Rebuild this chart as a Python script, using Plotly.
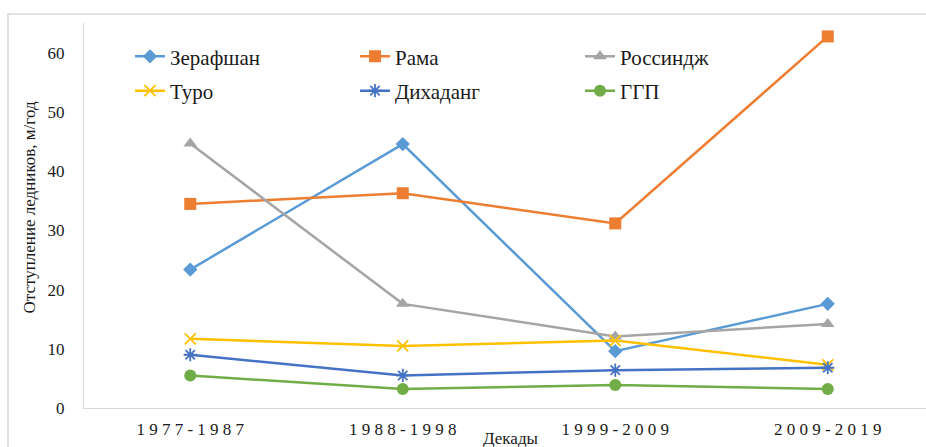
import plotly.graph_objects as go

# Glacier retreat rates by decade, m/yr
decades = ["1977-1987", "1988-1998", "1999-2009", "2009-2019"]
zeravshan = [23.4, 44.6, 9.6, 17.6]
rama = [34.5, 36.3, 31.2, 62.8]
rossindzh = [44.7, 17.6, 12.1, 14.2]
turo = [11.7, 10.5, 11.4, 7.3]
dikhadang = [9.0, 5.5, 6.4, 6.8]
ggp = [5.5, 3.2, 3.9, 3.2]

series_names = ["Зерафшан", "Рама", "Россиндж", "Туро", "Дихаданг", "ГГП"]
y_ticks = [0, 10, 20, 30, 40, 50, 60]

W, H = 926, 447
L, R, T, B = 84, 0, 23, 39
pw, ph = W - L - R, H - T - B

def px_x(x):
    return (x - L) / pw

def px_y(y):
    return (H - B - y) / ph

FONT = "Liberation Serif, Times New Roman, Times, DejaVu Serif, serif"
TXT = "#1a1a1a"

styles = [
    dict(color="#5B9BD5", symbol="diamond", size=11),
    dict(color="#ED7D31", symbol="square", size=12),
    dict(color="#A5A5A5", symbol="triangle-up", size=12),
    dict(color="#FFC000", symbol="x-thin-open", size=11),
    dict(color="#4472C4", symbol="asterisk-open", size=11),
    dict(color="#70AD47", symbol="circle", size=12),
]
values = [zeravshan, rama, rossindzh, turo, dikhadang, ggp]

x_idx = list(range(len(decades)))

fig = go.Figure()
for i, (name, vals, st) in enumerate(zip(series_names, values, styles)):
    open_sym = st["symbol"].endswith("open")
    fig.add_trace(go.Scatter(
        x=x_idx, y=vals, name=name, mode="lines+markers",
        line=dict(color=st["color"], width=2.5),
        marker=dict(symbol=st["symbol"], size=st["size"], color=st["color"],
                    line=dict(color=st["color"], width=1.8 if open_sym else 0)),
        legend="legend" if i < 3 else "legend2",
    ))

spaced = [" ".join(list(d)) for d in decades]

legend_common = dict(
    orientation="h", xanchor="left", yanchor="middle",
    entrywidth=180, entrywidthmode="pixels",
    font=dict(family=FONT, size=21, color=TXT),
    bgcolor="rgba(0,0,0,0)", itemwidth=30, tracegroupgap=0,
)

fig.update_layout(
    width=W, height=H,
    margin=dict(l=L, r=R, t=T, b=B, pad=0),
    paper_bgcolor="white", plot_bgcolor="white",
    font=dict(family=FONT, color=TXT),
    showlegend=True,
    legend=dict(x=px_x(130), y=px_y(56.7), **legend_common),
    legend2=dict(x=px_x(130), y=px_y(91), **legend_common),
    xaxis=dict(
        range=[-0.5, -0.5 + pw / 212.5],
        tickvals=x_idx, ticktext=spaced,
        tickfont=dict(family=FONT, size=17, color=TXT),
        showline=True, linecolor="#D9D9D9", linewidth=1.3,
        showgrid=False, zeroline=False, ticks="",
        ticklabelstandoff=5,
    ),
    yaxis=dict(
        range=[0, 60 * (H - B - T) / 355],
        tickvals=y_ticks,
        tickfont=dict(family=FONT, size=17, color=TXT),
        showline=True, linecolor="#D9D9D9", linewidth=1.3,
        showgrid=False, zeroline=False, ticks="",
        ticklabelstandoff=15,
    ),
    annotations=[
        dict(text="Отступление ледников, м/год", textangle=-90,
             x=px_x(29), y=px_y(207.5), xref="paper", yref="paper",
             showarrow=False, xanchor="center", yanchor="middle",
             font=dict(family=FONT, size=17, color=TXT)),
        dict(text="Декады",
             x=px_x(511), y=px_y(438), xref="paper", yref="paper",
             showarrow=False, xanchor="center", yanchor="middle",
             font=dict(family=FONT, size=17, color=TXT)),
    ],
    shapes=[
        dict(type="rect", xref="paper", yref="paper",
             x0=px_x(8), x1=px_x(W + 20), y0=px_y(H + 20), y1=px_y(14),
             line=dict(color="#D9D9D9", width=1.5), fillcolor="rgba(0,0,0,0)",
             layer="below"),
    ],
)

fig.write_html("out.html")
